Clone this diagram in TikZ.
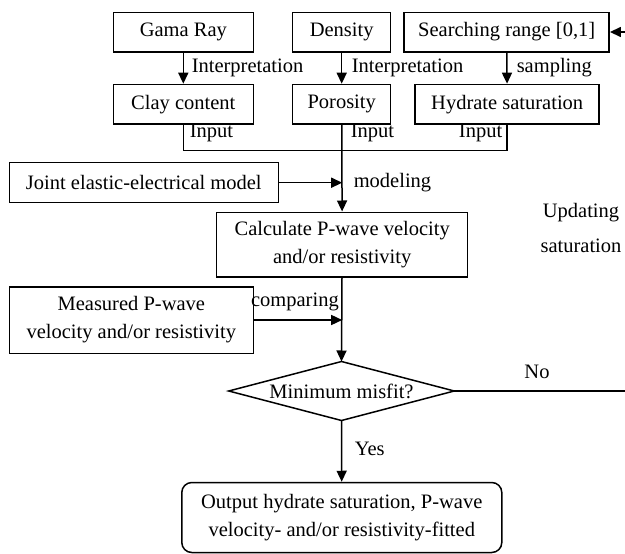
\documentclass[tikz,border=0pt]{standalone}
\usepackage{fontspec}
\setmainfont{Liberation Serif}
\usepackage{tikz}
\usetikzlibrary{arrows.meta, positioning}

\begin{document}
\begin{tikzpicture}[x=1pt, y=-1pt, line width=1.5pt,
    font=\fontsize{20.5}{28}\selectfont,
    box/.style={draw, rectangle, minimum height=39.5pt, inner sep=2pt},
    lbl/.style={inner sep=0pt, anchor=west},
    flow/.style={-{Triangle[width=10pt,length=11pt]}}]
    \useasboundingbox (0,0) rectangle (625,554);
    % logs and searching range
    \node[box, minimum width=140pt] (gama) at (183.3,32) {Gama Ray};
    \node[box, minimum width=98pt] (density) at (341.7,32) {Density};
    \node[box, minimum width=205pt] (search) at (506.7,32) {Searching range [0,1]};
    % model parameters
    \node[box, minimum width=140pt] (clay) at (183.3,104.2) {Clay content};
    \node[box, minimum width=98pt] (poro) at (341.7,104.2) {Porosity};
    \node[box, minimum width=184pt] (hydr) at (507.2,104.2) {Hydrate saturation};
    % forward modeling
    \node[box, minimum width=269pt, minimum height=40pt] (joint) at (143.8,182.7) {Joint elastic-electrical model};
    \node[box, minimum width=251pt, minimum height=64.5pt, align=center] (calc) at (342.2,244.5)
        {Calculate P-wave velocity\\and/or resistivity};
    \node[box, minimum width=244pt, minimum height=66.5pt, align=center] (meas) at (131.3,320)
        {Measured P-wave\\velocity and/or resistivity};
    % decision
    \node[minimum width=224pt, minimum height=57.5pt, inner sep=0pt] (dia) at (341.5,391) {Minimum misfit?};
    \draw (dia.north) -- (dia.east) -- (dia.south) -- (dia.west) -- cycle;
    \node[box, rounded corners=10pt, minimum width=320pt, minimum height=70pt, align=center] (out) at (341.8,517.5)
        {Output hydrate saturation, P-wave\\velocity- and/or resistivity-fitted};

    % labels
    \node[lbl] (interp1) at (191,68) {Interpretation};
    \node[lbl] (interp2) at (351,68) {Interpretation};
    \node[lbl] (sampl) at (516,68) {sampling};
    \node[lbl] (in1) at (189,133) {Input};
    \node[lbl] (in2) at (350,133) {Input};
    \node[lbl, anchor=east] (in3) at (503,133) {Input};
    \node[lbl] (model) at (353,183) {modeling};
    \node[lbl, anchor=east] (comp) at (339.5,301.7) {comparing};
    \node[lbl] (yes) at (354,449) {Yes};
    \node[inner sep=0pt] (no) at (537,372) {No};
    \node[inner sep=0pt, align=center] (upd) at (581,228) {Updating\\[7pt]saturation};

    % connectors
    \draw[flow] (gama) -- (clay);
    \draw[flow] (density) -- (poro);
    \draw[flow] (search) -- (hydr);
    \draw (clay.south) -- ++(0,26) -| (hydr.south);
    \draw[flow] (poro) -- (calc);
    \draw[flow] (joint.east) -- (joint.east -| calc.north);
    \draw[flow] (meas.east) -- (meas.east -| calc.south);
    \draw[flow] (calc) -- (dia.north);
    \draw[flow] (dia.south) -- (out);
    \coordinate (loop) at (632,391);
    \draw[flow] (dia.east) -- (loop) |- (search.east);
\end{tikzpicture}
\end{document}
